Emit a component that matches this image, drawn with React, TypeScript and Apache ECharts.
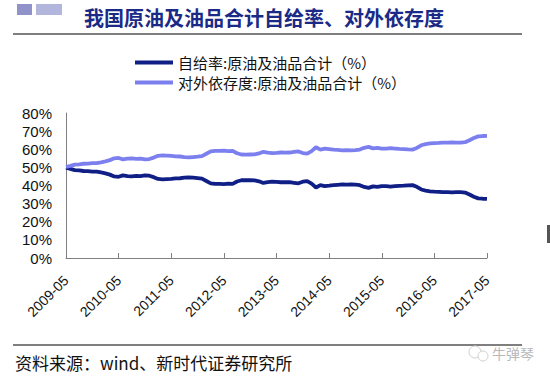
import React, { useEffect, useRef } from "react";
import * as echarts from "echarts";

const titleText = "我国原油及油品合计自给率、对外依存度";
const sourceText = "资料来源：wind、新时代证券研究所";
const seriesNames = ["自给率:原油及油品合计（%）", "对外依存度:原油及油品合计（%）"];

// monthly categories 2009-05 .. 2017-05
const categories: string[] = [];
for (let y = 2009; y <= 2017; y++) {
  for (let m = 1; m <= 12; m++) {
    if ((y === 2009 && m < 5) || (y === 2017 && m > 5)) continue;
    categories.push(`${y}-${m < 10 ? "0" + m : m}`);
  }
}

const selfSufficiency = [
  49.8, 49.2, 48.5, 48.3, 48.0, 47.9, 47.7, 47.6, 47.2, 46.7, 46.0, 45.0,
  44.8, 45.6, 45.2, 45.0, 45.3, 45.2, 45.6, 45.4, 44.6, 43.6, 43.4, 43.5,
  43.6, 43.9, 44.0, 44.3, 44.5, 44.3, 44.1, 43.8, 42.5, 41.2, 40.9, 40.9,
  40.8, 41.0, 40.9, 42.2, 42.9, 43.0, 42.9, 42.8, 42.3, 41.4, 41.8, 42.1,
  42.0, 41.8, 41.9, 41.8, 41.5, 41.2, 42.1, 42.4, 41.0, 38.9, 40.2, 39.7,
  39.9, 40.2, 40.4, 40.6, 40.5, 40.6, 40.5, 40.2, 39.2, 38.7, 39.5, 39.2,
  39.7, 39.6, 39.4, 39.6, 39.8, 39.9, 40.1, 40.2, 39.3, 37.8, 37.2, 36.8,
  36.6, 36.5, 36.3, 36.4, 36.2, 36.4, 36.3, 36.1, 35.0, 33.8, 32.9, 32.7,
  32.6,
];

const dependency = [
  50.2, 50.8, 51.5, 51.7, 52.0, 52.1, 52.3, 52.4, 52.8, 53.3, 54.0, 55.0,
  55.2, 54.4, 54.8, 55.0, 54.7, 54.8, 54.4, 54.6, 55.4, 56.4, 56.6, 56.5,
  56.4, 56.1, 56.0, 55.7, 55.5, 55.7, 55.9, 56.2, 57.5, 58.8, 59.1, 59.1,
  59.2, 59.0, 59.1, 57.8, 57.1, 57.0, 57.1, 57.2, 57.7, 58.6, 58.2, 57.9,
  58.0, 58.2, 58.1, 58.2, 58.5, 58.8, 57.9, 57.6, 59.0, 61.1, 59.8, 60.3,
  60.1, 59.8, 59.6, 59.4, 59.5, 59.4, 59.5, 59.8, 60.8, 61.3, 60.5, 60.8,
  60.3, 60.4, 60.6, 60.4, 60.2, 60.1, 59.9, 59.8, 60.7, 62.2, 62.8, 63.2,
  63.4, 63.5, 63.7, 63.6, 63.8, 63.6, 63.7, 63.9, 65.0, 66.2, 67.1, 67.3,
  67.4,
];

const yTicks = [0, 10, 20, 30, 40, 50, 60, 70, 80];

const darkColor = "#0f1f86";
const lightColor = "#7c80ee";
const cjk = "'Noto Sans CJK SC', sans-serif";
const sans = "'Liberation Sans', Arial, sans-serif";

export default function App() {
  const ref = useRef<HTMLDivElement>(null);
  useEffect(() => {
    if (!ref.current) return;
    const chart = echarts.init(ref.current, undefined, { renderer: "svg" });
    chart.setOption({
      animation: false,
      backgroundColor: "#ffffff",
      grid: { left: 66, right: 63, top: 113, bottom: 120, containLabel: false },
      legend: {
        orient: "vertical",
        left: 130,
        top: 50,
        itemWidth: 38,
        itemHeight: 4,
        itemGap: 5,
        icon: "rect",
        textStyle: { fontFamily: cjk, fontSize: 15, color: "#111" },
        data: seriesNames,
      },
      xAxis: {
        type: "category",
        data: categories,
        boundaryGap: false,
        axisLine: { lineStyle: { color: "#808080", width: 1 } },
        axisTick: { show: true, inside: true, interval: 11, length: 5, lineStyle: { color: "#808080" } },
        axisLabel: {
          interval: 11,
          rotate: 45,
          margin: 20,
          fontFamily: sans,
          fontSize: 14,
          color: "#111",
        },
      },
      yAxis: {
        type: "value",
        min: yTicks[0],
        max: yTicks[yTicks.length - 1],
        interval: 10,
        splitLine: { show: false },
        axisLine: { show: true, lineStyle: { color: "#808080", width: 1 } },
        axisTick: { show: false },
        axisLabel: {
          formatter: "{value}%",
          margin: 14,
          fontFamily: sans,
          fontSize: 15,
          color: "#111",
        },
      },
      series: [
        {
          name: seriesNames[0],
          type: "line",
          data: selfSufficiency,
          symbol: "none",
          lineStyle: { color: darkColor, width: 3.8 },
          itemStyle: { color: darkColor },
        },
        {
          name: seriesNames[1],
          type: "line",
          data: dependency,
          symbol: "none",
          lineStyle: { color: lightColor, width: 3.8 },
          itemStyle: { color: lightColor },
        },
      ],
      graphic: [
        { type: "rect", shape: { x: 17, y: 4, width: 15, height: 11 }, style: { fill: "#8f93c9" } },
        { type: "rect", shape: { x: 36, y: 4, width: 26, height: 11 }, style: { fill: "#b3b6dc" } },
        {
          type: "text",
          x: 264,
          y: 17,
          style: {
            text: titleText,
            fontFamily: cjk,
            fontSize: 20,
            fontWeight: "bold",
            fill: "#1a2a86",
            align: "center",
            verticalAlign: "middle",
          },
        },
        { type: "line", shape: { x1: 13, y1: 34, x2: 522, y2: 34 }, style: { stroke: "#000", lineWidth: 1.2 } },
        { type: "line", shape: { x1: 13, y1: 345, x2: 522, y2: 345 }, style: { stroke: "#000", lineWidth: 1.2 } },
        {
          type: "text",
          x: 15,
          y: 362,
          style: {
            text: sourceText,
            fontFamily: cjk,
            fontSize: 17,
            fill: "#111",
            align: "left",
            verticalAlign: "middle",
          },
        },
        { type: "circle", shape: { cx: 475, cy: 352, r: 6 }, style: { fill: "none", stroke: "#cfcfcf", lineWidth: 1 } },
        { type: "circle", shape: { cx: 483, cy: 356, r: 5 }, style: { fill: "#fff", stroke: "#cfcfcf", lineWidth: 1 } },
        {
          type: "text",
          x: 534,
          y: 353,
          style: {
            text: "牛弹琴",
            fontFamily: cjk,
            fontSize: 14,
            fill: "#b8b8b8",
            align: "right",
            verticalAlign: "middle",
          },
        },
        { type: "rect", shape: { x: 547, y: 225, width: 3, height: 18 }, style: { fill: "#555" } },
      ],
    });
    return () => chart.dispose();
  }, []);
  return (
    <div
      ref={ref}
      style={{ position: "absolute", left: 0, top: 0, width: 550, height: 378 }}
    />
  );
}
